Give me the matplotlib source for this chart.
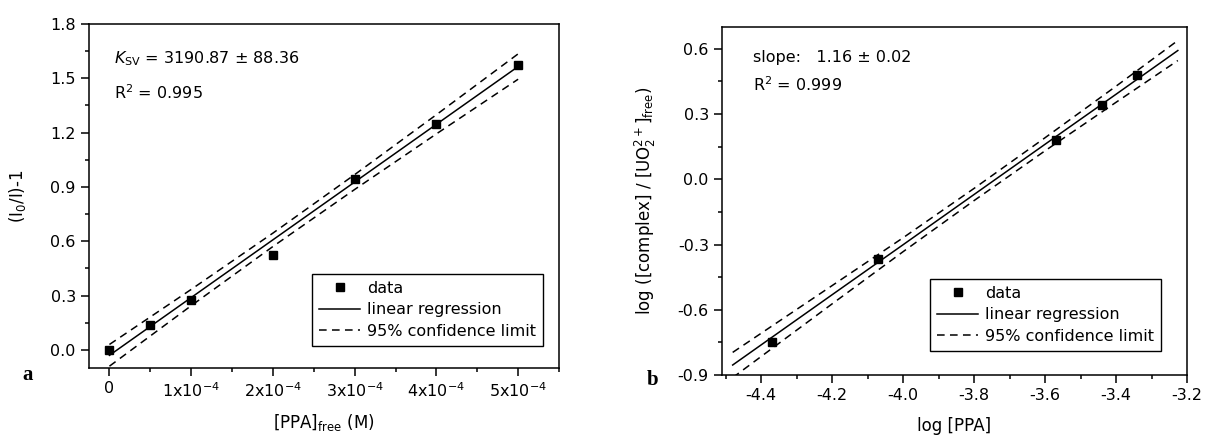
# Stern-Volmer plot (a) and log plot (b) for PPA / UO2 complexation

import numpy as np
import matplotlib
matplotlib.use("Agg")
import matplotlib.pyplot as plt
from matplotlib.ticker import MultipleLocator, FixedLocator, FixedFormatter

plt.rcParams['font.family'] = 'DejaVu Sans'
plt.rcParams['font.size'] = 11
plt.rcParams['mathtext.default'] = 'regular'

# ---- panel a data ----
ppa_free = [0, 0.5e-4, 1e-4, 2e-4, 3e-4, 4e-4, 5e-4]
i0_ratio = [0.0, 0.135, 0.275, 0.525, 0.945, 1.25, 1.575]

fit_a_x = [0, 1e-4, 2e-4, 3e-4, 4e-4, 5e-4]
fit_a_y = [-0.03, 0.289, 0.608, 0.927, 1.246, 1.565]
upper_a = [0.03, 0.334, 0.645, 0.968, 1.299, 1.635]
lower_a = [-0.09, 0.244, 0.571, 0.886, 1.193, 1.495]

xticks_a = [0, 1e-4, 2e-4, 3e-4, 4e-4, 5e-4]
xticklabels_a = ['0', '1x10$^{-4}$', '2x10$^{-4}$', '3x10$^{-4}$', '4x10$^{-4}$', '5x10$^{-4}$']

# ---- panel b data ----
log_ppa = [-4.37, -4.07, -3.57, -3.44, -3.34]
log_ratio = [-0.75, -0.365, 0.18, 0.34, 0.48]

fit_b_x = [-4.48, -4.2, -4.0, -3.8, -3.6, -3.4, -3.226]
fit_b_y = [-0.854, -0.531, -0.301, -0.070, 0.161, 0.391, 0.592]
upper_b = [-0.796, -0.489, -0.269, -0.042, 0.191, 0.428, 0.638]
lower_b = [-0.912, -0.573, -0.333, -0.098, 0.131, 0.354, 0.546]


def style_axes(ax):
    for s in ax.spines.values():
        s.set_linewidth(1.1)
    ax.tick_params(which='major', direction='out', length=6, width=1.1, labelsize=11.5)
    ax.tick_params(which='minor', direction='out', length=3, width=1.1)
    ax.tick_params(top=False, right=False)


def add_fit(ax, xd, yd, fx, fy, up, lo, legend_box):
    ax.plot(xd, yd, 's', color='black', ms=6, label='data', zorder=3)
    ax.plot(fx, fy, '-', color='black', lw=1.1, label='linear regression')
    ax.plot(fx, up, '--', color='black', lw=1.1, dashes=(5, 3.5), label='95% confidence limit')
    ax.plot(fx, lo, '--', color='black', lw=1.1, dashes=(5, 3.5))
    leg = ax.legend(loc='lower right', bbox_to_anchor=legend_box, borderaxespad=0,
                    fancybox=False, framealpha=1, edgecolor='black', fontsize=11.5,
                    handlelength=2.6, handletextpad=0.4, borderpad=0.45, labelspacing=0.4,
                    numpoints=1)
    leg.get_frame().set_linewidth(1.0)


fig = plt.figure(figsize=(12.06, 4.38), dpi=100)

# panel a
ax1 = fig.add_axes([0.0738, 0.1598, 0.3897, 0.7854])
add_fit(ax1, ppa_free, i0_ratio, fit_a_x, fit_a_y, upper_a, lower_a, (0.966, 0.064))
ax1.set_xlim(-2.5e-5, 5.5e-4)
ax1.set_ylim(-0.1, 1.8)
ax1.xaxis.set_major_locator(FixedLocator(xticks_a))
ax1.xaxis.set_major_formatter(FixedFormatter(xticklabels_a))
ax1.xaxis.set_minor_locator(MultipleLocator(0.5e-4))
ax1.yaxis.set_major_locator(MultipleLocator(0.3))
ax1.yaxis.set_minor_locator(MultipleLocator(0.15))
ax1.yaxis.set_major_formatter(plt.FuncFormatter(lambda v, p: f"{v:.1f}"))
style_axes(ax1)
ax1.set_xlabel('[PPA]$_{free}$ (M)', fontsize=12, labelpad=9)
ax1.set_ylabel('(I$_0$/I)-1', fontsize=12, labelpad=16)
ax1.text(0.053, 0.90, r'$\mathit{K}_{SV}$ = 3190.87 ± 88.36', transform=ax1.transAxes,
         fontsize=11.5, va='center', ha='left')
ax1.text(0.053, 0.80, 'R$^2$ = 0.995', transform=ax1.transAxes,
         fontsize=11.5, va='center', ha='left')
fig.text(28 / 1206, 1 - 375 / 438, 'a', family='Liberation Serif', weight='bold',
         fontsize=15, ha='center', va='center')

# panel b
ax2 = fig.add_axes([0.5987, 0.1438, 0.3856, 0.7945])
add_fit(ax2, log_ppa, log_ratio, fit_b_x, fit_b_y, upper_b, lower_b, (0.944, 0.069))
ax2.set_xlim(-4.51, -3.2)
ax2.set_ylim(-0.9, 0.7)
ax2.xaxis.set_major_locator(MultipleLocator(0.2))
ax2.xaxis.set_minor_locator(MultipleLocator(0.1))
ax2.xaxis.set_major_formatter(plt.FuncFormatter(lambda v, p: f"{v:.1f}"))
ax2.yaxis.set_major_locator(MultipleLocator(0.3))
ax2.yaxis.set_minor_locator(MultipleLocator(0.15))
ax2.yaxis.set_major_formatter(plt.FuncFormatter(lambda v, p: f"{v:.1f}"))
style_axes(ax2)
ax2.set_xlabel('log [PPA]', fontsize=12, labelpad=10)
ax2.set_ylabel('log ([complex] / [UO$_2^{2+}$]$_{free}$)', fontsize=12, labelpad=14)
ax2.text(0.067, 0.911, 'slope:   1.16 ± 0.02', transform=ax2.transAxes,
         fontsize=11.5, va='center', ha='left')
ax2.text(0.067, 0.833, 'R$^2$ = 0.999', transform=ax2.transAxes,
         fontsize=11.5, va='center', ha='left')
fig.text(653 / 1206, 1 - 380 / 438, 'b', family='Liberation Serif', weight='bold',
         fontsize=15, ha='center', va='center')

fig.savefig('out.png', dpi=100, facecolor='w')
